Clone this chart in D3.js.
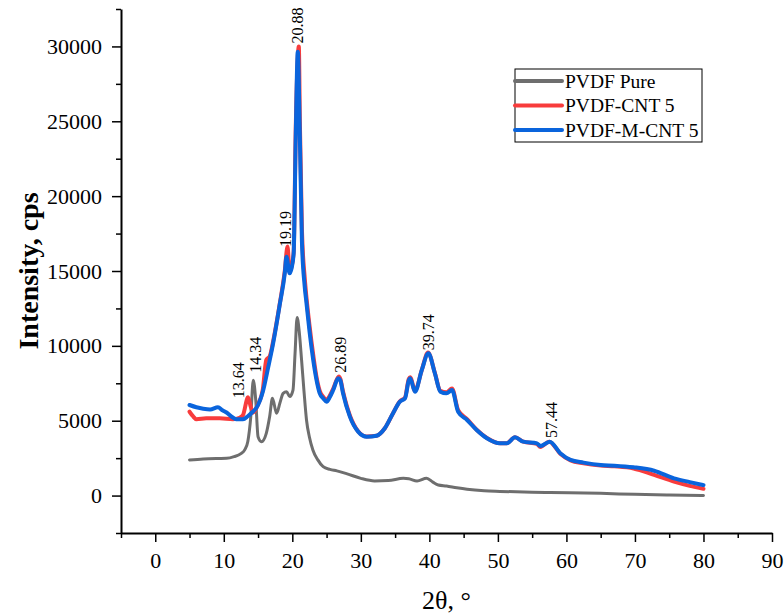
<!DOCTYPE html>
<html>
<head>
<meta charset="utf-8">
<script src="https://cdn.jsdelivr.net/npm/d3@7"></script>
<style>
  body { margin: 0; background: #fff; }
  svg text { font-family: "Liberation Serif", "Times New Roman", serif; }
</style>
</head>
<body>
<div id="chart"></div>
<script>
// series names and colours
const seriesNames = ["PVDF Pure", "PVDF-CNT 5", "PVDF-M-CNT 5"];
const seriesColors = ["#6e6e6e", "#f83c3c", "#0a64dc"];

// [2theta, intensity]
const pvdfPure = [
  [5, 2380], [7, 2450], [9, 2480], [10.4, 2490], [11.5, 2600], [12.5, 2800], [13.05, 3050],
  [13.5, 3600], [13.94, 5270], [14.3, 7700], [14.66, 6390], [15.0, 3930], [15.5, 3600],
  [16.2, 4160], [16.7, 5300], [17.1, 6500], [17.7, 5500], [18.2, 6200], [18.66, 6830],
  [19.15, 6940], [19.63, 6610], [20.1, 7050], [20.4, 9500], [20.7, 11900], [21.0, 11000],
  [21.35, 9060], [21.7, 7000], [22.07, 5050], [22.5, 3900], [23.0, 3050], [23.7, 2400],
  [24.5, 1930], [25.5, 1750], [26.5, 1650], [28, 1450], [30, 1150], [32, 980], [34, 1000],
  [36.2, 1150], [37, 1120], [38.2, 975], [39.6, 1155], [40.5, 900], [41.3, 710], [42.5, 640],
  [44, 520], [45.5, 420], [48, 320], [50.3, 280], [55, 220], [57.6, 200], [65, 150],
  [70, 80], [75, 30], [80, 0]
];

const pvdfCnt5 = [
  [5, 5600], [5.5, 5300], [6, 5100], [7.45, 5160], [9.4, 5160], [11.35, 5100], [12.3, 5200],
  [12.8, 5380], [13.54, 6560], [13.93, 5940], [14.27, 5540], [15.0, 6100], [15.7, 7100],
  [16.2, 9060], [16.7, 9300], [17.2, 10300], [18.2, 12900], [18.9, 15000], [19.3, 16630],
  [19.6, 15000], [19.9, 15300], [20.2, 16300], [20.5, 24500], [20.95, 29990], [21.1, 25000],
  [21.4, 17800], [21.8, 14600], [22.07, 13200], [22.5, 11400], [23.05, 9400], [23.5, 8000],
  [24.0, 7000], [24.5, 6600], [25.0, 6400], [25.5, 6700], [25.97, 7150], [26.8, 7950],
  [27.0, 7800], [27.4, 6950], [28.4, 5350], [29.6, 4300], [30.85, 3950], [32.3, 4000],
  [33.5, 4500], [34.7, 5500], [35.7, 6300], [36.45, 6550], [37.0, 7800], [37.2, 7900],
  [37.9, 7000], [38.9, 8400], [39.8, 9550], [40.8, 8200], [41.6, 7000], [42.5, 6900],
  [43.3, 7150], [44.2, 5700], [45.5, 5100], [46.9, 4400], [48.4, 3850], [50.3, 3500],
  [51.3, 3500], [52.5, 3900], [53.7, 3600], [55.7, 3450], [56.2, 3250], [57.5, 3600],
  [59.1, 2800], [60.6, 2350], [62.5, 2150], [65, 2000], [67, 1950], [69.8, 1810],
  [72.8, 1380], [75.7, 930], [78, 650], [80, 450]
];

const pvdfMCnt5 = [
  [5, 6050], [6, 5900], [7, 5800], [8, 5750], [9.15, 5900], [9.8, 5700], [10.4, 5550],
  [11.2, 5250], [11.8, 5100], [12.8, 5100], [13.5, 5300], [14.0, 5500], [15.0, 6050],
  [15.7, 6940], [16.5, 8610], [17.2, 10170], [18.2, 12850], [18.9, 14850], [19.15, 15960],
  [19.6, 14850], [19.9, 15200], [20.2, 16190], [20.5, 24000], [20.8, 29650], [21.1, 24000],
  [21.4, 17000], [21.8, 14000], [22.07, 12850], [22.5, 11000], [23.05, 9060], [23.5, 7800],
  [24.0, 6830], [24.5, 6500], [25.0, 6270], [25.5, 6600], [25.97, 7050], [26.7, 7830],
  [27.0, 7700], [27.4, 6830], [28.4, 5270], [29.6, 4270], [30.85, 3930], [32.3, 4000],
  [33.5, 4500], [34.7, 5500], [35.7, 6270], [36.45, 6500], [37.0, 7700], [37.2, 7830],
  [37.9, 6940], [38.9, 8390], [39.85, 9500], [40.8, 8170], [41.6, 6940], [42.5, 6830],
  [43.3, 7050], [44.2, 5600], [45.5, 5050], [46.9, 4380], [48.4, 3830], [50.3, 3490],
  [51.3, 3490], [52.5, 3890], [53.7, 3600], [55.7, 3490], [56.2, 3310], [57.55, 3600],
  [59.1, 2830], [60.6, 2380], [62.5, 2200], [65, 2040], [67, 2000], [69.8, 1890],
  [72.8, 1660], [75.7, 1150], [78, 900], [80, 700]
];

// peak labels: text, x position, intensity at the bottom of the text
const peakLabels = ["13.64", "14.34", "19.19", "20.88", "26.89", "39.74", "57.44"];
const peakX = [12.1, 14.6, 18.95, 20.8, 27.0, 39.8, 57.8];
const peakY = [6500, 8200, 16600, 30200, 8200, 9700, 3850];

const xTicks = [0, 10, 20, 30, 40, 50, 60, 70, 80, 90];
const yTicks = [0, 5000, 10000, 15000, 20000, 25000, 30000];

const width = 784, height = 615;
const margin = { top: 9, right: 12, bottom: 82, left: 121 };

const svg = d3.select("#chart").append("svg")
  .attr("width", width)
  .attr("height", height);

const x = d3.scaleLinear().domain([-5, 90]).range([margin.left, width - margin.right]);
const y = d3.scaleLinear().domain([-2500, 32500]).range([height - margin.bottom, margin.top]);

// minor ticks
svg.append("g")
  .attr("transform", `translate(0,${height - margin.bottom})`)
  .call(d3.axisBottom(x).tickValues(d3.range(-5, 90, 10)).tickSize(5).tickFormat(""))
  .call(g => g.select(".domain").remove())
  .selectAll("line").attr("stroke-width", 1.5);

svg.append("g")
  .attr("transform", `translate(${margin.left},0)`)
  .call(d3.axisLeft(y).tickValues(d3.range(-2500, 33000, 5000)).tickSize(5).tickFormat(""))
  .call(g => g.select(".domain").remove())
  .selectAll("line").attr("stroke-width", 1.5);

// major ticks + labels
const xAxis = svg.append("g")
  .attr("transform", `translate(0,${height - margin.bottom})`)
  .call(d3.axisBottom(x).tickValues(xTicks).tickSize(9).tickPadding(10).tickSizeOuter(0)
    .tickFormat(d3.format("d")));

const yAxis = svg.append("g")
  .attr("transform", `translate(${margin.left},0)`)
  .call(d3.axisLeft(y).tickValues(yTicks).tickSize(9).tickPadding(10).tickSizeOuter(0)
    .tickFormat(d3.format("d")));

[xAxis, yAxis].forEach(ax => {
  ax.select(".domain").attr("stroke-width", 2);
  ax.selectAll(".tick line").attr("stroke-width", 1.5);
  ax.selectAll(".tick text")
    .attr("font-family", "Liberation Serif, serif")
    .attr("font-size", 22)
    .attr("fill", "#000");
});

// axis titles
svg.append("text")
  .attr("x", x(42.5))
  .attr("y", 609)
  .attr("text-anchor", "middle")
  .attr("font-size", 26)
  .text("2θ, °");

svg.append("text")
  .attr("transform", `translate(38,${y(15000)}) rotate(-90)`)
  .attr("text-anchor", "middle")
  .attr("font-size", 28)
  .attr("font-weight", "bold")
  .text("Intensity, cps");

// curves
const line = d3.line()
  .x(d => x(d[0]))
  .y(d => y(d[1]))
  .curve(d3.curveMonotoneX);

const allSeries = [pvdfPure, pvdfCnt5, pvdfMCnt5];
const strokeWidths = [3, 4, 4];

allSeries.forEach((s, i) => {
  svg.append("path")
    .datum(s)
    .attr("fill", "none")
    .attr("stroke", seriesColors[i])
    .attr("stroke-width", strokeWidths[i])
    .attr("stroke-linejoin", "round")
    .attr("stroke-linecap", "round")
    .attr("d", line);
});

// peak labels
svg.selectAll(".peak")
  .data(peakLabels)
  .enter()
  .append("text")
  .attr("class", "peak")
  .attr("transform", (d, i) => `translate(${x(peakX[i])},${y(peakY[i])}) rotate(-90)`)
  .attr("dy", "0.35em")
  .attr("font-size", 16)
  .attr("font-family", (d, i) => i >= 5 ? "Liberation Sans, sans-serif" : "Liberation Serif, serif")
  .text(d => d);

// legend
const legend = svg.append("g").attr("transform", "translate(515,69)");

legend.append("rect")
  .attr("width", 187)
  .attr("height", 73)
  .attr("fill", "#fff")
  .attr("stroke", "#000")
  .attr("stroke-width", 1);

seriesNames.forEach((name, i) => {
  legend.append("line")
    .attr("x1", 0).attr("x2", 47)
    .attr("y1", 12 + i * 24.5).attr("y2", 12 + i * 24.5)
    .attr("stroke", seriesColors[i])
    .attr("stroke-width", 4)
    .attr("stroke-linecap", "round");

  legend.append("text")
    .attr("x", 50)
    .attr("y", 12 + i * 24.5)
    .attr("dy", "0.35em")
    .attr("font-size", 19.5)
    .text(name);
});
</script>
</body>
</html>
